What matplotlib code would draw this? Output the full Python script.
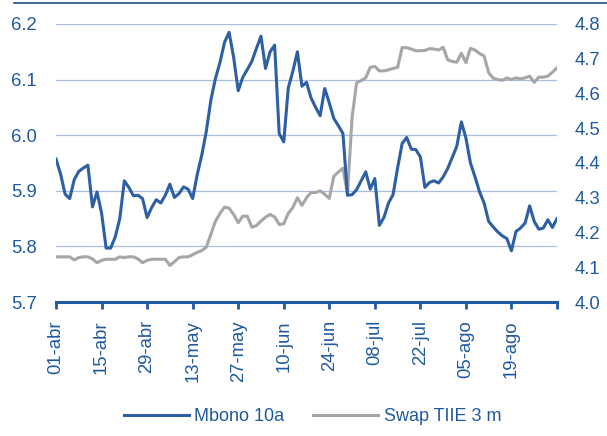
import matplotlib
matplotlib.use("Agg")
import matplotlib.pyplot as plt
from matplotlib.lines import Line2D
import pandas as pd

plt.rcParams["font.family"] = ["Liberation Sans", "DejaVu Sans"]

# business days, 01-abr to 02-sep
dates = pd.bdate_range("2013-04-01", "2013-09-02")

mbono_10a = [
    5.957, 5.930, 5.894, 5.886, 5.920, 5.935, 5.941, 5.946, 5.871, 5.898,
    5.860, 5.797, 5.797, 5.817, 5.850, 5.918, 5.906, 5.891, 5.892, 5.886,
    5.852, 5.870, 5.884, 5.878, 5.892, 5.912, 5.888, 5.895, 5.907, 5.903,
    5.886, 5.929, 5.964, 6.007, 6.063, 6.102, 6.131, 6.167, 6.185, 6.140,
    6.080, 6.104, 6.118, 6.133, 6.156, 6.178, 6.120, 6.150, 6.162, 6.003,
    5.988, 6.085, 6.115, 6.150, 6.088, 6.095, 6.067, 6.050, 6.035, 6.084,
    6.058, 6.030, 6.017, 6.003, 5.892, 5.893, 5.902, 5.918, 5.934, 5.903,
    5.922, 5.838, 5.852, 5.878, 5.893, 5.941, 5.985, 5.996, 5.975, 5.974,
    5.961, 5.906, 5.915, 5.918, 5.914, 5.925, 5.940, 5.960, 5.980, 6.024,
    5.995, 5.950, 5.925, 5.898, 5.878, 5.845, 5.835, 5.826, 5.819, 5.814,
    5.792, 5.827, 5.833, 5.842, 5.873, 5.845, 5.831, 5.833, 5.848, 5.834,
    5.850,
]

swap_tiie_3m = [
    4.130, 4.130, 4.130, 4.130, 4.121, 4.128, 4.130, 4.130, 4.124, 4.113,
    4.120, 4.123, 4.123, 4.123, 4.130, 4.128, 4.130, 4.130, 4.124, 4.113,
    4.120, 4.123, 4.123, 4.123, 4.123, 4.105, 4.116, 4.128, 4.130, 4.130,
    4.136, 4.143, 4.148, 4.158, 4.195, 4.232, 4.255, 4.273, 4.270, 4.252,
    4.228, 4.247, 4.247, 4.215, 4.220, 4.233, 4.244, 4.252, 4.245, 4.223,
    4.225, 4.255, 4.272, 4.300, 4.278, 4.300, 4.315, 4.315, 4.320, 4.310,
    4.298, 4.362, 4.374, 4.385, 4.310, 4.530, 4.631, 4.637, 4.645, 4.675,
    4.678, 4.665, 4.665, 4.668, 4.672, 4.675, 4.732, 4.732, 4.728, 4.723,
    4.723, 4.724, 4.729, 4.728, 4.725, 4.733, 4.697, 4.692, 4.690, 4.716,
    4.689, 4.730, 4.725, 4.715, 4.708, 4.660, 4.644, 4.640, 4.638, 4.645,
    4.640, 4.645, 4.642, 4.645, 4.650, 4.632, 4.647, 4.647, 4.650, 4.661,
    4.674,
]

meses = {4: "abr", 5: "may", 6: "jun", 7: "jul", 8: "ago", 9: "sep"}

blue = "#2e5fa3"
gray = "#a6a6a6"
txt = "#1f5a9e"
grid = "#a9bde0"

fig = plt.figure(figsize=(6.07, 4.36), dpi=100)
ax = fig.add_axes([0.0923, 0.3073, 0.8253, 0.6377])
ax2 = ax.twinx()

x = range(len(dates))
ax.plot(x, mbono_10a, color=blue, lw=2.2, solid_joinstyle="round")
ax2.plot(x, swap_tiie_3m, color=gray, lw=2.2, solid_joinstyle="round")
ax.set_zorder(ax2.get_zorder() + 1)
ax.patch.set_visible(False)

ax.set_ylim(5.7, 6.2)
ax.set_yticks([5.7, 5.8, 5.9, 6.0, 6.1, 6.2])
ax.set_yticklabels([f"{v:.1f}" for v in ax.get_yticks()])
ax2.set_ylim(4.0, 4.8)
ax2.set_yticks([4.0 + 0.1 * i for i in range(9)])
ax2.set_yticklabels([f"{v:.1f}" for v in ax2.get_yticks()])

ax.set_xlim(0, len(dates) - 1)
ticks = list(range(0, len(dates), 10))
labels = [f"{dates[i].day:02d}-{meses[dates[i].month]}" for i in ticks]
labels[-1] = ""
ax.set_xticks(ticks)
ax.set_xticklabels(labels, rotation=90)

# gridlines follow the left scale
for v in [5.8, 5.9, 6.0, 6.1, 6.2]:
    ax2.axhline(4.0 + (v - 5.7) * 1.6, color=grid, lw=0.9, zorder=0)

for a in (ax, ax2):
    for s in ("left", "right", "top", "bottom"):
        a.spines[s].set_visible(False)
ax.spines["bottom"].set_visible(True)
ax.spines["bottom"].set_color("#1f5aa6")
ax.spines["bottom"].set_linewidth(2.2)

ax.tick_params(axis="x", colors="#1f5aa6", length=5, width=2, labelsize=13.3,
               labelcolor=txt, pad=8)
ax.tick_params(axis="y", length=0, labelsize=13.3, labelcolor=txt, pad=14)
ax2.tick_params(axis="y", length=0, labelsize=13.3, labelcolor=txt, pad=13)

handles = [Line2D([], [], color=blue, lw=2.2), Line2D([], [], color=gray, lw=2.2)]
fig.legend(handles, ["Mbono 10a", "Swap TIIE 3 m"], loc="center",
           bbox_to_anchor=(0.515, 0.044), ncol=2, frameon=False, fontsize=13,
           labelcolor=txt, handlelength=3.6, handletextpad=0.3, columnspacing=1.6)

fig.add_artist(Line2D([0.023, 1.0], [0.992, 0.992], color="#1f4e8c", lw=1.2))

fig.savefig("out.png", dpi=100)
